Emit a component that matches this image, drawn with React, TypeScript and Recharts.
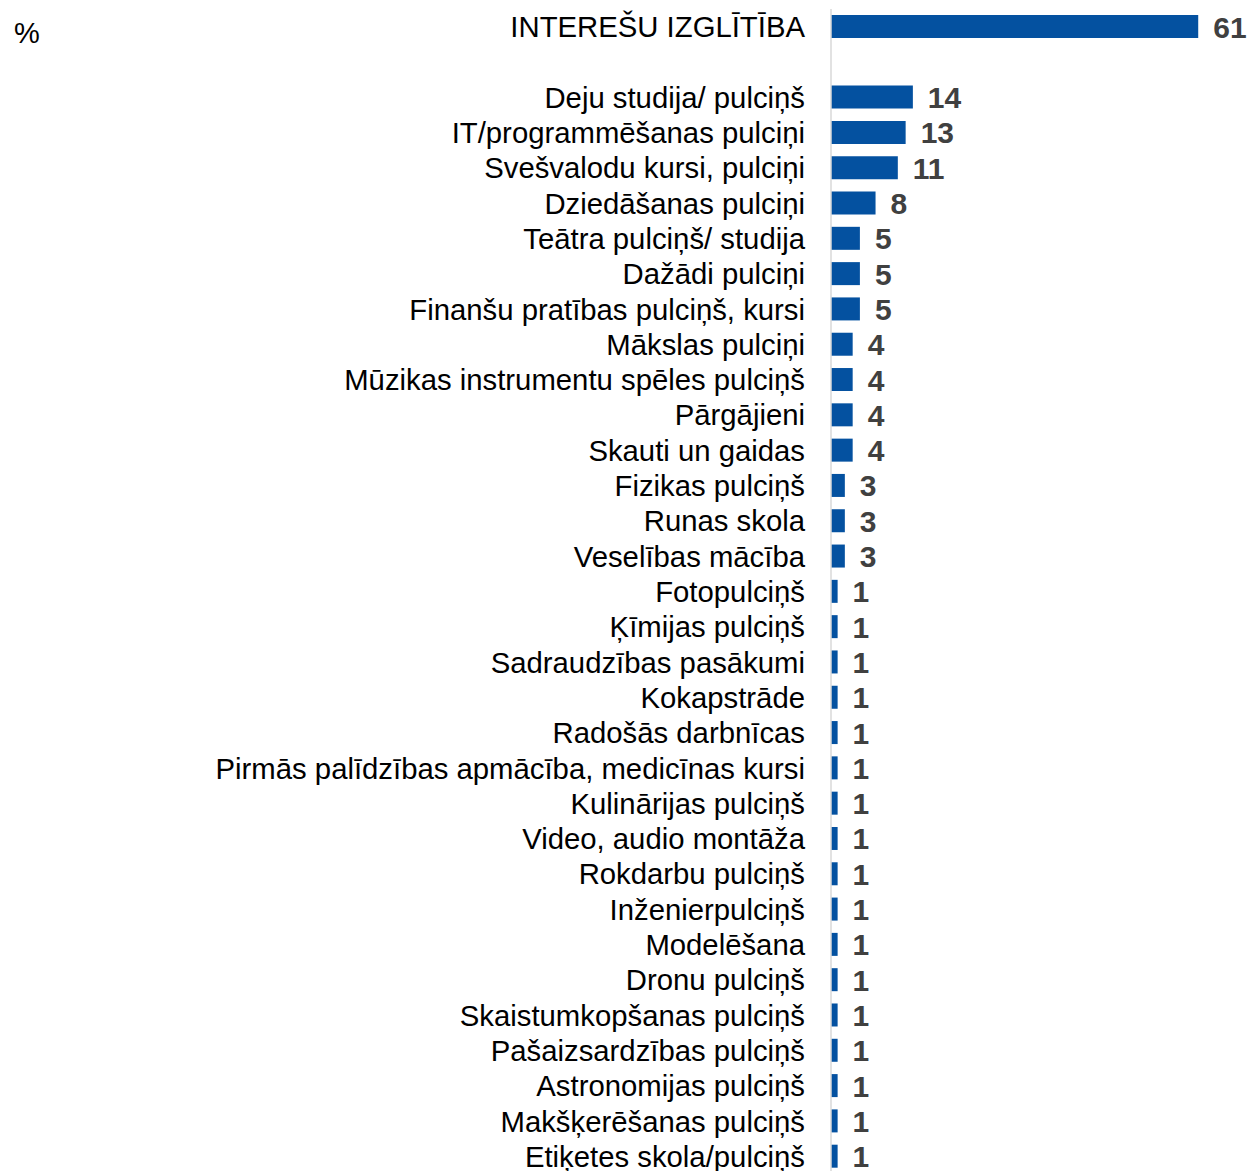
import { BarChart, Bar, XAxis, YAxis, LabelList } from 'recharts';

const categories = [
    'INTEREŠU IZGLĪTĪBA',
    ' ',
    'Deju studija/ pulciņš',
    'IT/programmēšanas pulciņi',
    'Svešvalodu kursi, pulciņi',
    'Dziedāšanas pulciņi',
    'Teātra pulciņš/ studija',
    'Dažādi pulciņi',
    'Finanšu pratības pulciņš, kursi',
    'Mākslas pulciņi',
    'Mūzikas instrumentu spēles pulciņš',
    'Pārgājieni',
    'Skauti un gaidas',
    'Fizikas pulciņš',
    'Runas skola',
    'Veselības mācība',
    'Fotopulciņš',
    'Ķīmijas pulciņš',
    'Sadraudzības pasākumi',
    'Kokapstrāde',
    'Radošās darbnīcas',
    'Pirmās palīdzības apmācība, medicīnas kursi',
    'Kulinārijas pulciņš',
    'Video, audio montāža',
    'Rokdarbu pulciņš',
    'Inženierpulciņš',
    'Modelēšana',
    'Dronu pulciņš',
    'Skaistumkopšanas pulciņš',
    'Pašaizsardzības pulciņš',
    'Astronomijas pulciņš',
    'Makšķerēšanas pulciņš',
    'Etiķetes skola/pulciņš',
];

// bar lengths
const values = [
    61, null, 13.6, 12.4, 11.1, 7.4, 4.8, 4.8, 4.8, 3.6, 3.6, 3.6, 3.6, 2.3, 2.3, 2.3,
    1.1, 1.1, 1.1, 1.1, 1.1, 1.1, 1.1, 1.1, 1.1, 1.1, 1.1, 1.1, 1.1, 1.1, 1.1, 1.1, 1.1,
];

// printed labels
const shown = [
    '61', '', '14', '13', '11', '8', '5', '5', '5', '4', '4', '4', '4', '3', '3', '3',
    '1', '1', '1', '1', '1', '1', '1', '1', '1', '1', '1', '1', '1', '1', '1', '1', '1',
];

const chartData = categories.map((name, i) => ({ name, value: values[i], label: shown[i] }));

const FONT = 'Arial, "Liberation Sans", sans-serif';

const CategoryTick = (props: any) => {
    const { x, y, payload } = props;
    return (
        <text x={x} y={y} dy={10.5} textAnchor="end" fontSize={29.3} fill="#000" fontFamily={FONT}>
            {payload.value}
        </text>
    );
};

const ValueLabel = (props: any) => {
    const { x, y, width, height, value } = props;
    if (!value) return null;
    return (
        <text x={x + width + 15} y={y + height / 2} dy={11} textAnchor="start" fontSize={30}
            fontWeight="bold" fill="#404040" fontFamily={FONT}>
            {value}
        </text>
    );
};

export default function App() {
    return (
        <div style={{ position: 'absolute', left: 0, top: 0, width: 1251, height: 1171, overflow: 'hidden', background: '#fff' }}>
            <div style={{ position: 'absolute', left: 14, top: 16, fontSize: 29, fontFamily: FONT, color: '#000', lineHeight: '34px' }}>%</div>
            <BarChart
                width={1251}
                height={1171}
                data={chartData}
                layout="vertical"
                margin={{ top: 9, right: 28.7, bottom: -3, left: 0 }}
                barCategoryGap={0}
            >
                <XAxis type="number" domain={[0, 65]} hide />
                <YAxis
                    type="category"
                    dataKey="name"
                    width={831}
                    interval={0}
                    tickLine={false}
                    tickSize={0}
                    tickMargin={26}
                    axisLine={{ stroke: '#d9d9d9', strokeWidth: 1.5 }}
                    tick={<CategoryTick />}
                />
                <Bar dataKey="value" fill="#0451a0" barSize={23} isAnimationActive={false}>
                    <LabelList dataKey="label" content={<ValueLabel />} />
                </Bar>
            </BarChart>
        </div>
    );
}
